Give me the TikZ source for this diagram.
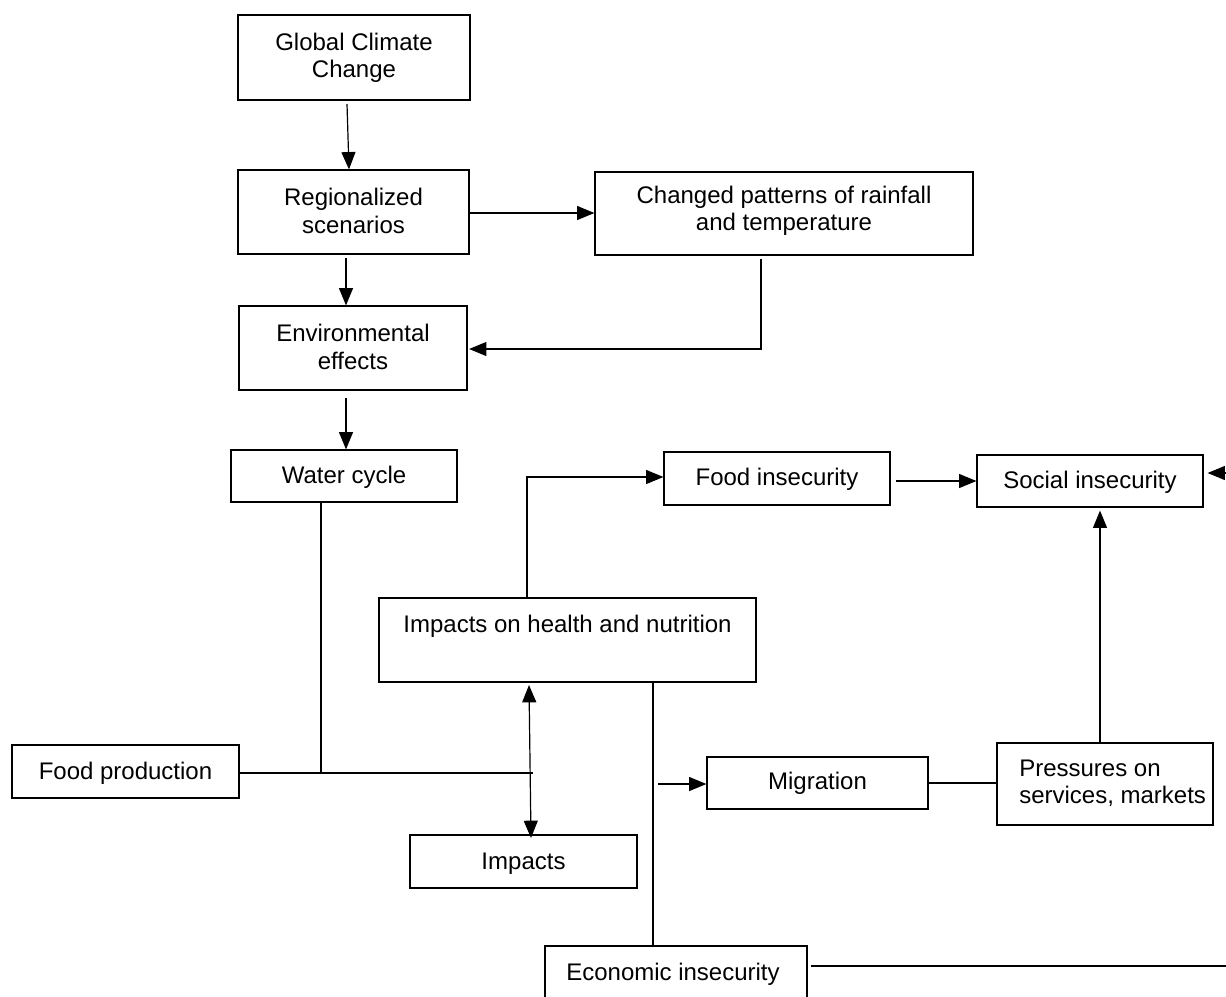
\documentclass[tikz,border=0pt]{standalone}
\usepackage{fontspec}
\setmainfont{Liberation Sans}
\usetikzlibrary{arrows.meta,fit,calc}
\begin{document}
\begin{tikzpicture}[x=0.75pt,y=-0.75pt,
  box/.style={draw, line width=0.9pt, rectangle, inner sep=0pt},
  txt/.style={font=\fontsize{18}{20.5}\selectfont, align=center, inner sep=0pt},
  tip/.tip={Triangle[length=13pt,width=10.5pt]},
  arr/.style={line width=0.9pt, -tip},
  dbl/.style={line width=0.9pt, tip-tip},
  ln/.style={line width=0.9pt}]
\useasboundingbox (0,0) rectangle (1226,996);
\clip (0,0) rectangle (1226,996);
% boxes
\node[box, fit={(238,15) (470,100)}] (g) {};
\node[txt] (gt) at (354,58) {Global Climate\\Change};
\node[box, fit={(238,170) (469,254)}] (r) {};
\node[txt] (rt) at (353.5,211) {Regionalized\\scenarios};
\node[box, fit={(595,172) (973,255)}] (ch) {};
\node[txt] (cht) at (784,211) {Changed patterns of rainfall\\and temperature};
\node[box, fit={(239,306) (467,390)}] (e) {};
\node[txt] (et) at (353,347) {Environmental\\effects};
\node[box, fit={(231,450) (457,502)}] (w) {};
\node[txt] (wt) at (344,477) {Water cycle};
\node[box, fit={(664,452) (890,505)}] (fi) {};
\node[txt] (fit) at (777,479) {Food insecurity};
\node[box, fit={(977,455) (1203,507)}] (s) {};
\node[txt] (st) at (1090,482) {Social insecurity};
\node[box, fit={(379,598) (756,682)}] (h) {};
\node[txt] (ht) at (567.5,626) {Impacts on health and nutrition};
\node[box, fit={(12,745) (239,798)}] (fp) {};
\node[txt] (fpt) at (125.5,773) {Food production};
\node[box, fit={(707,757) (928,809)}] (m) {};
\node[txt] (mt) at (817.5,783) {Migration};
\node[box, fit={(997,743) (1213,825)}] (p) {};
\node[txt, align=left, anchor=west] (pt) at (1019,783) {Pressures on\\services, markets};
\node[box, fit={(410,835) (637,888)}] (im) {};
\node[txt] (imt) at (523.5,864) {Impacts};
\node[box, fit={(545,946) (807,1010)}] (ec) {};
\node[txt] (ect) at (673,974) {Economic insecurity};
% connectors
\coordinate (c1) at (347,104);
\draw[arr] (c1) -- ($(r.north)+(-4.5,0)$);
\coordinate (c2) at (469,213);
\draw[arr] (c2) -- (c2 -| ch.west);
\coordinate (c3) at (346,258);
\draw[arr] (c3) -- (c3 |- e.north);
\coordinate (c4) at (761,259);
\coordinate (c4b) at (761,349);
\draw[arr] (c4) -- (c4b) -- ($(c4b -| e.east)+(1.5,0)$);
\coordinate (c5) at (346,398);
\draw[arr] (c5) -- (c5 |- w.north);
\coordinate (c6) at (321,773);
\draw[ln] (c6 |- w.south) -- (c6);
\coordinate (c7) at (533,773);
\draw[ln] (fp.east |- c7) -- (c7);
\coordinate (c8) at (529,685);
\coordinate (c9) at (531,838);
\draw[dbl] (c8) -- (c9);
\coordinate (c10) at (527,477);
\draw[arr] (c10 |- h.north) -- (c10) -- (c10 -| fi.west);
\coordinate (c11) at (896,481);
\draw[arr] (c11) -- (c11 -| s.west);
\coordinate (c12) at (1226,473);
\draw[arr] (c12) -- ($(c12 -| s.east)+(4,0)$);
\coordinate (c13) at (1100,743);
\draw[arr] (c13 |- p.north) -- ($(c13 |- s.south)+(0,3)$);
\coordinate (c14) at (653,700);
\draw[ln] (c14 |- h.south) -- (c14 |- ec.north);
\coordinate (c15) at (658,784);
\draw[arr] (c15) -- (c15 -| m.west);
\draw[ln] (m.east) -- (m.east -| p.west);
\coordinate (c16) at (1226,966);
\draw[ln] ($(ec.east |- c16)+(3,0)$) -- (c16);
\end{tikzpicture}
\end{document}
